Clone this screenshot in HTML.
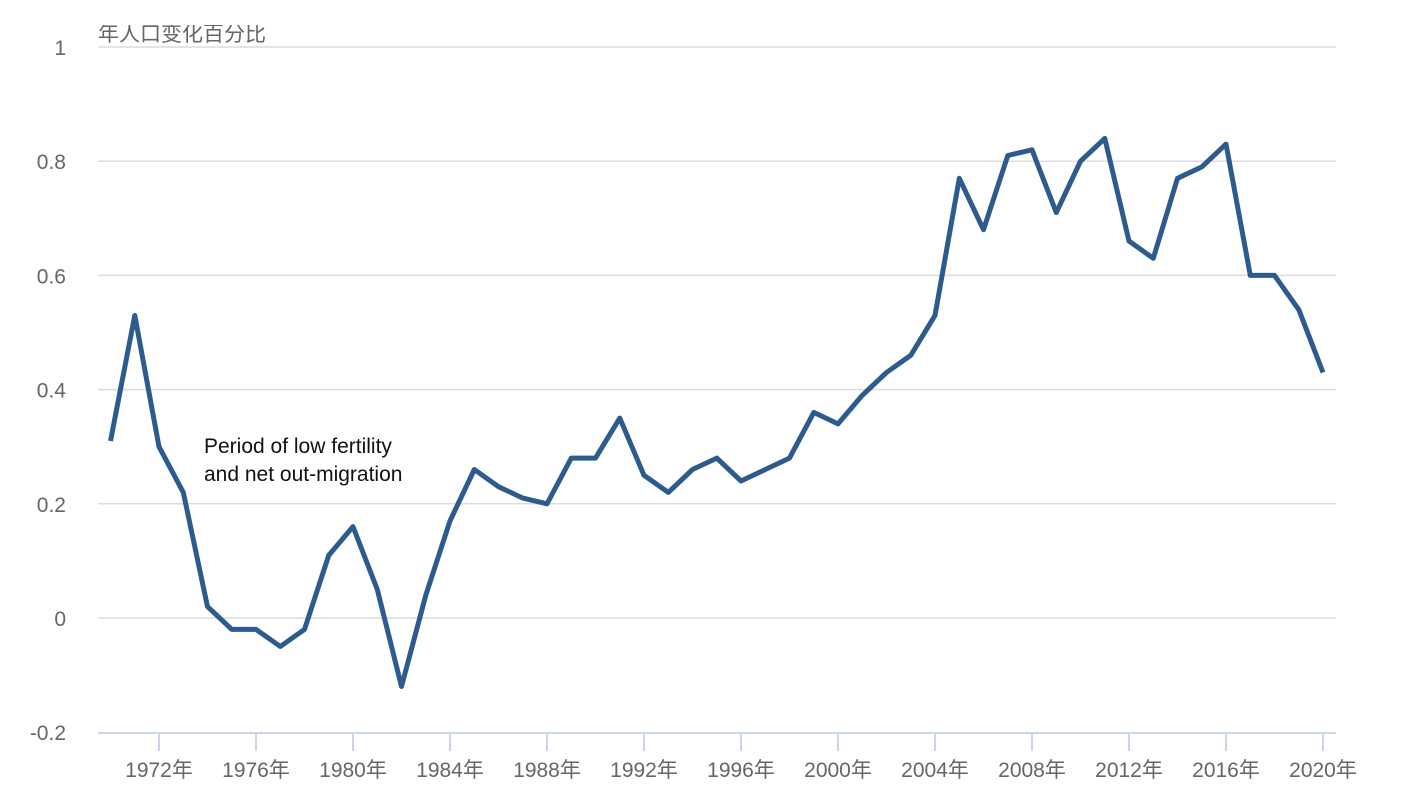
<!DOCTYPE html>
<html><head><meta charset="utf-8"><style>
body{margin:0;background:#fff;}
svg{display:block;font-family:"Liberation Sans","Noto Sans CJK SC",sans-serif;}
</style></head><body>
<svg id="chart" width="1420" height="804">
<defs><clipPath id="tc"><rect x="0" y="25" width="600" height="40"/></clipPath></defs>
<g id="grid"></g>
<g id="yaxis"></g>
<g id="xaxis"></g>
<text x="98" y="41" font-size="21" fill="#666" clip-path="url(#tc)">年人口变化百分比</text>
<path id="line" fill="none" stroke="#2e5b8e" stroke-width="5" stroke-linejoin="round"></path>
<text x="204" y="453" font-size="21" fill="#111"><tspan x="204">Period of low fertility</tspan><tspan x="204" dy="28">and net out-migration</tspan></text>
</svg>
<script>
const years=[1970,1971,1972,1973,1974,1975,1976,1977,1978,1979,1980,1981,1982,1983,1984,1985,1986,1987,1988,1989,1990,1991,1992,1993,1994,1995,1996,1997,1998,1999,2000,2001,2002,2003,2004,2005,2006,2007,2008,2009,2010,2011,2012,2013,2014,2015,2016,2017,2018,2019,2020];
const values=[0.31,0.53,0.30,0.22,0.02,-0.02,-0.02,-0.05,-0.02,0.11,0.16,0.05,-0.12,0.04,0.17,0.26,0.23,0.21,0.20,0.28,0.28,0.35,0.25,0.22,0.26,0.28,0.24,0.26,0.28,0.36,0.34,0.39,0.43,0.46,0.53,0.77,0.68,0.81,0.82,0.71,0.80,0.84,0.66,0.63,0.77,0.79,0.83,0.60,0.60,0.54,0.43];
const yTicks=[-0.2,0,0.2,0.4,0.6,0.8,1];
const yTickLabels=["-0.2","0","0.2","0.4","0.6","0.8","1"];
const xTicks=[1972,1976,1980,1984,1988,1992,1996,2000,2004,2008,2012,2016,2020];
const NS="http://www.w3.org/2000/svg";
const x=yr=>110.5+(yr-1970)*(1323-159)/48;
const y=v=>618-v*(618-47);
function mk(t,a,p){const e=document.createElementNS(NS,t);for(const k in a)e.setAttribute(k,a[k]);p.appendChild(e);return e;}
const grid=document.getElementById('grid'),ya=document.getElementById('yaxis'),xa=document.getElementById('xaxis');
yTicks.forEach((v,i)=>{
  if(v>-0.2){const l=mk('line',{x1:98,x2:1336,y1:y(v),y2:y(v),stroke:'#dcdcdc','stroke-width':1.5},grid);
  
  }
  const t=mk('text',{x:66,y:y(v)+8,'font-size':21,fill:'#666','text-anchor':'end'},ya);t.textContent=yTickLabels[i];
  
  
});
const ax=mk('line',{x1:98,x2:1336,y1:733,y2:733,stroke:'#ccd6eb','stroke-width':2},xa);


xTicks.forEach(yr=>{
  const tk=mk('line',{x1:x(yr),x2:x(yr),y1:733,y2:751,stroke:'#ccd6eb','stroke-width':2},xa);
  
  
  const t=mk('text',{x:x(yr),y:777,'font-size':21,fill:'#666','text-anchor':'middle'},xa);t.textContent=yr+'年';
  
  
});
document.getElementById('line').setAttribute('d',years.map((yr,i)=>(i?'L':'M')+x(yr).toFixed(1)+','+y(values[i]).toFixed(1)).join(''));
</script>
</body></html>
